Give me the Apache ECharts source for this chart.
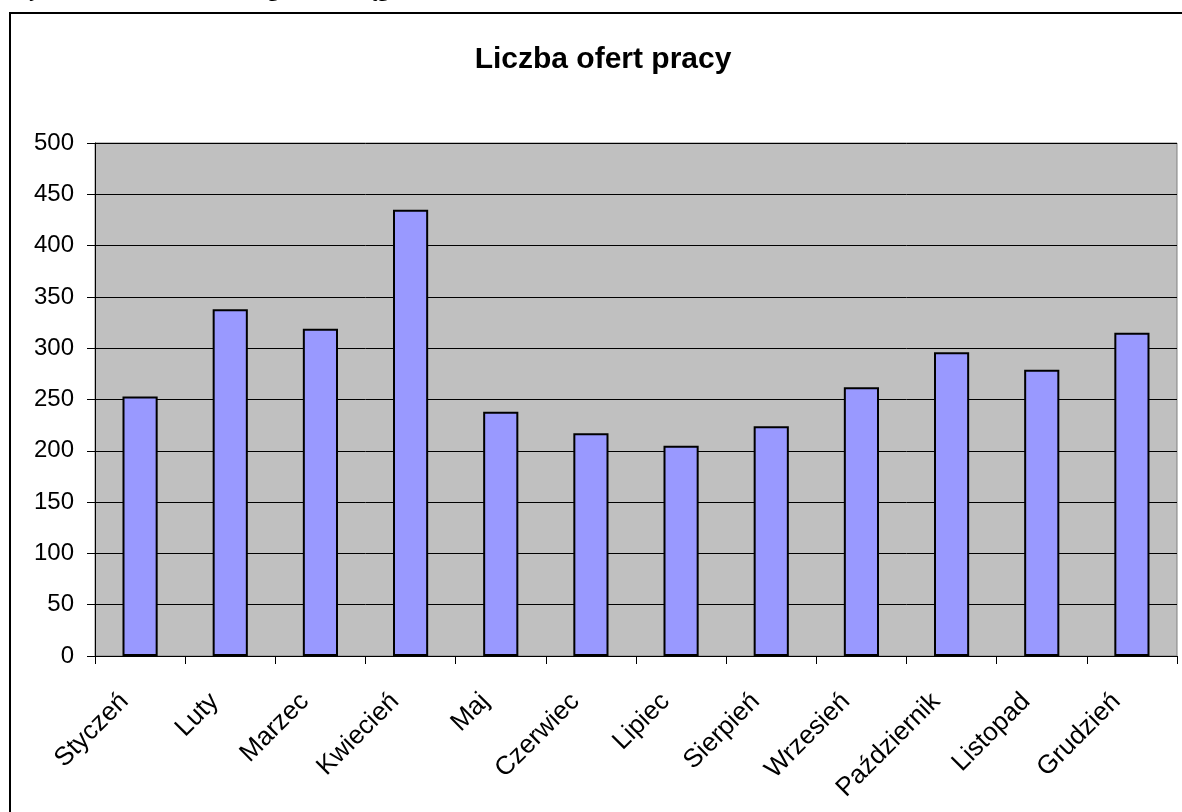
<!DOCTYPE html>
<html>
<head>
<meta charset="utf-8">
<script src="https://cdn.jsdelivr.net/npm/echarts@6/dist/echarts.min.js"></script>
<style>
html,body{margin:0;padding:0;background:#fff;}
#chart{width:1182px;height:812px;}
</style>
</head>
<body>
<div id="chart"></div>
<script>
const categories = ['Styczeń','Luty','Marzec','Kwiecień','Maj','Czerwiec','Lipiec','Sierpień','Wrzesień','Październik','Listopad','Grudzień'];
const offers = [253, 338, 319, 435, 238, 217, 205, 224, 262, 296, 279, 315];
const yTicks = {min: 0, max: 500, interval: 50};
const titleText = 'Liczba ofert pracy';
const captionText = 'Wykres 1. Liczba ofert w regionie w ciągu roku';

const chart = echarts.init(document.getElementById('chart'));
chart.setOption({
  animation: false,
  backgroundColor: '#ffffff',
  graphic: [
    {type: 'rect', z: -10, shape: {x: 10, y: 13, width: 1190, height: 820},
     style: {fill: '#ffffff', stroke: '#000000', lineWidth: 2}},
    {type: 'text', x: 8, y: -21, z: 5,
     style: {text: captionText, font: 'bold 22px "Liberation Serif"', fill: '#000', textAlign: 'left', textVerticalAlign: 'top'}},
    {type: 'text', x: 603, y: 60, z: 5,
     style: {text: titleText, font: 'bold 30px "Liberation Sans", Arial', fill: '#000', textAlign: 'center', textVerticalAlign: 'middle'}}
  ],
  grid: {left: 95, right: 5, top: 143, bottom: 156, show: true, backgroundColor: '#C0C0C0', borderColor: '#808080', borderWidth: 1, containLabel: false},
  xAxis: {
    type: 'category',
    data: categories,
    axisLine: {show: true, lineStyle: {color: '#000', width: 1}},
    axisTick: {show: true, length: 8, alignWithLabel: false, lineStyle: {color: '#000'}},
    axisLabel: {rotate: 45, margin: 26, padding: [0, 22, 0, 0], color: '#000', fontSize: 26, fontFamily: '"Liberation Sans", Arial', interval: 0},
    splitLine: {show: false}
  },
  yAxis: {
    type: 'value',
    min: yTicks.min, max: yTicks.max, interval: yTicks.interval,
    axisLine: {show: true, lineStyle: {color: '#000', width: 1}},
    axisTick: {show: true, length: 8, lineStyle: {color: '#000'}},
    axisLabel: {color: '#000', fontSize: 24, fontFamily: '"Liberation Sans", Arial', margin: 21},
    splitLine: {show: true, lineStyle: {color: '#000', width: 1}}
  },
  series: [{
    type: 'bar',
    data: offers,
    barWidth: '39%',
    itemStyle: {color: '#9999FF', borderColor: '#000', borderWidth: 2}
  }]
});
</script>
</body>
</html>
